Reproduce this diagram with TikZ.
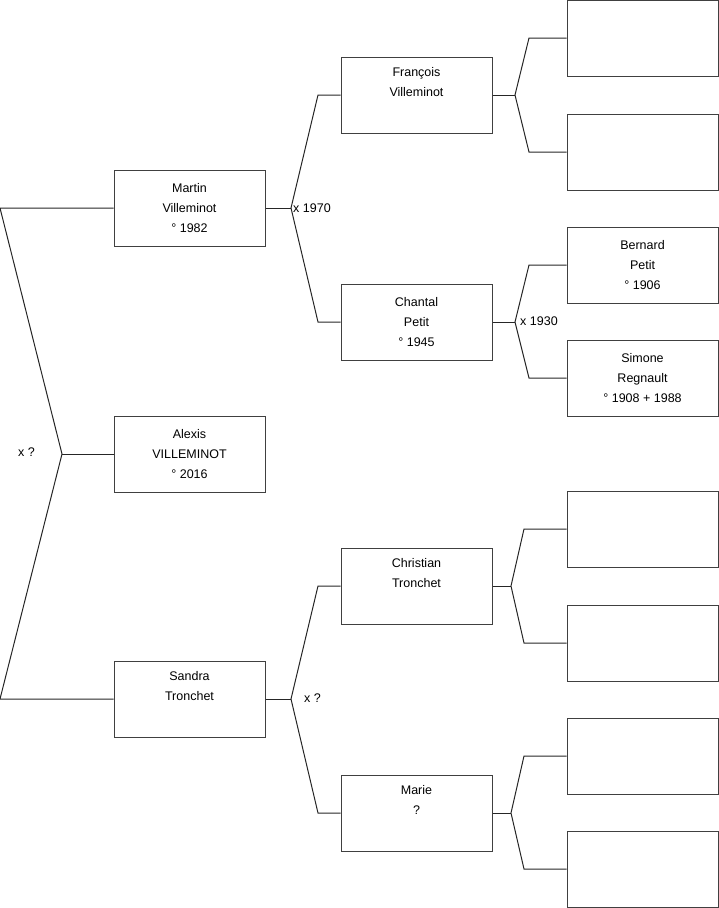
\documentclass[tikz,border=0pt]{standalone}
\usepackage{fontspec}
\setmainfont{Liberation Sans}
\begin{document}
\begin{tikzpicture}[x=1pt,y=-1pt,
  person/.style={draw=black!75,line width=1pt,fill=white,minimum width=151pt,minimum height=76pt,
    inner sep=0pt,align=center,font=\fontsize{12.5}{20}\selectfont},
  link/.style={draw=black!85,line width=1pt},
  union/.style={anchor=west,inner sep=0pt,font=\fontsize{12.5}{15}\selectfont}]
\useasboundingbox (0,0) rectangle (719,908);
% column 1
\node[person] (martin) at (189.5,208) {Martin\\Villeminot\\° 1982};
\node[person] (alexis) at (189.5,454) {Alexis\\VILLEMINOT\\° 2016};
\node[person] (sandra) at (189.5,699) {Sandra\\Tronchet\\\strut};
% column 2
\node[person] (francois) at (416.5,95) {François\\Villeminot\\\strut};
\node[person] (chantal) at (416.5,322) {Chantal\\Petit\\° 1945};
\node[person] (christian) at (416.5,586) {Christian\\Tronchet\\\strut};
\node[person] (marie) at (416.5,813) {Marie\\?\\\strut};
% column 3
\node[person] (r1) at (642.5,38) {};
\node[person] (r2) at (642.5,152) {};
\node[person] (bernard) at (642.5,265) {Bernard\\Petit\\° 1906};
\node[person] (simone) at (642.5,378) {Simone\\Regnault\\° 1908 + 1988};
\node[person] (r5) at (642.5,529) {};
\node[person] (r6) at (642.5,643) {};
\node[person] (r7) at (642.5,756) {};
\node[person] (r8) at (642.5,869) {};
% left bracket
\coordinate (l1) at (0,208);
\coordinate (l2) at (0,699);
\coordinate (j0) at (62,454);
\draw[link] (martin.west) -- (l1) -- (j0) -- (l2) -- (sandra.west);
\draw[link] (j0) -- (alexis.west);
\node[union] (u0) at (18,452) {x ?};
% Martin's parents
\coordinate (j1) at (291,208);
\coordinate (a1) at (318,95);
\coordinate (b1) at (318,322);
\draw[link] (martin.east) -- (j1);
\draw[link] (francois.west) -- (a1) -- (j1) -- (b1) -- (chantal.west);
\node[union] (u1) at (293,208) {x 1970};
% Sandra's parents
\coordinate (j2) at (291,699);
\coordinate (a2) at (318,586);
\coordinate (b2) at (318,813);
\draw[link] (sandra.east) -- (j2);
\draw[link] (christian.west) -- (a2) -- (j2) -- (b2) -- (marie.west);
\node[union] (u2) at (304,698) {x ?};
% François's parents
\coordinate (j3) at (515,95);
\coordinate (a3) at (529,38);
\coordinate (b3) at (529,152);
\draw[link] (francois.east) -- (j3);
\draw[link] (r1.west) -- (a3) -- (j3) -- (b3) -- (r2.west);
% Chantal's parents
\coordinate (j4) at (515,322);
\coordinate (a4) at (529,265);
\coordinate (b4) at (529,378);
\draw[link] (chantal.east) -- (j4);
\draw[link] (bernard.west) -- (a4) -- (j4) -- (b4) -- (simone.west);
\node[union] (u4) at (520,321) {x 1930};
% Christian's parents
\coordinate (j5) at (511,586);
\coordinate (a5) at (524,529);
\coordinate (b5) at (524,643);
\draw[link] (christian.east) -- (j5);
\draw[link] (r5.west) -- (a5) -- (j5) -- (b5) -- (r6.west);
% Marie's parents
\coordinate (j6) at (511,813);
\coordinate (a6) at (524,756);
\coordinate (b6) at (524,869);
\draw[link] (marie.east) -- (j6);
\draw[link] (r7.west) -- (a6) -- (j6) -- (b6) -- (r8.west);
\end{tikzpicture}
\end{document}
